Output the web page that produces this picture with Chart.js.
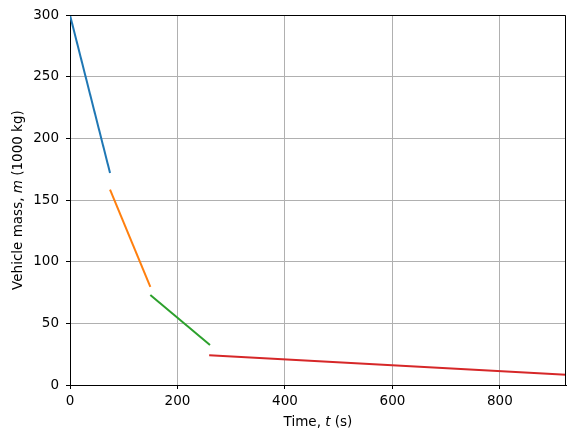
<!DOCTYPE html>
<html>
<head>
<meta charset="utf-8">
<script src="https://cdn.jsdelivr.net/npm/chart.js@4/dist/chart.umd.min.js"></script>
<style>
  html, body { margin: 0; padding: 0; background: #ffffff; }
  canvas { display: block; }
</style>
</head>
<body>
<canvas id="massChart" width="575" height="441"></canvas>
<script>
// Stage data: time (s) and vehicle mass (1000 kg)
const stage1Time = [0, 74.5];
const stage1Mass = [300, 172];
const stage2Time = [74.5, 149.5];
const stage2Mass = [158.5, 79.5];
const stage3Time = [149.5, 260.5];
const stage3Mass = [73, 32.5];
const stage4Time = [259, 923];
const stage4Mass = [24.1, 8.3];

const stageColors = ["#1f77b4", "#ff7f0e", "#2ca02c", "#d62728"];

const xTicks = [0, 200, 400, 600, 800];
const yTicks = [0, 50, 100, 150, 200, 250, 300];

const FONT = '"DejaVu Sans", sans-serif';
const FONT_SIZE = 13.5;

function toPoints(times, masses) {
  return times.map((t, i) => ({ x: t, y: masses[i] }));
}

// top and right spines, so the plot area is boxed like matplotlib
const frameBox = {
  id: "frameBox",
  afterDraw(chart) {
    const { ctx, chartArea: a } = chart;
    const top = Math.round(a.top) + 0.5;
    const right = Math.round(a.right) - 0.5;
    ctx.save();
    ctx.strokeStyle = "#000000";
    ctx.lineWidth = 1;
    ctx.beginPath();
    ctx.moveTo(a.left, top);
    ctx.lineTo(right, top);
    ctx.lineTo(right, a.bottom);
    ctx.stroke();
    ctx.restore();
  },
};

// axis titles with an italic symbol in the middle
function drawMixed(ctx, parts, cx, cy) {
  let total = 0;
  parts.forEach((p) => {
    ctx.font = (p.italic ? "italic " : "") + FONT_SIZE + "px " + FONT;
    p.w = ctx.measureText(p.text).width;
    total += p.w;
  });
  let x = cx - total / 2;
  parts.forEach((p) => {
    ctx.font = (p.italic ? "italic " : "") + FONT_SIZE + "px " + FONT;
    ctx.fillText(p.text, x, cy);
    x += p.w;
  });
}

const axisTitles = {
  id: "axisTitles",
  afterDraw(chart) {
    const { ctx, chartArea: a } = chart;
    ctx.save();
    ctx.fillStyle = "#000000";
    ctx.textAlign = "left";
    ctx.textBaseline = "middle";
    drawMixed(ctx, [
      { text: "Time, " },
      { text: "t", italic: true },
      { text: " (s)" },
    ], (a.left + a.right) / 2, 422);

    ctx.translate(18, (a.top + a.bottom) / 2);
    ctx.rotate(-Math.PI / 2);
    drawMixed(ctx, [
      { text: "Vehicle mass, " },
      { text: "m", italic: true },
      { text: " (1000 kg)" },
    ], 0, 0);
    ctx.restore();
  },
};

const stages = [
  [stage1Time, stage1Mass],
  [stage2Time, stage2Mass],
  [stage3Time, stage3Mass],
  [stage4Time, stage4Mass],
];

Chart.defaults.font.family = FONT;
Chart.defaults.font.size = FONT_SIZE;
Chart.defaults.color = "#000000";

new Chart(document.getElementById("massChart").getContext("2d"), {
  type: "scatter",
  data: {
    datasets: stages.map(([t, m], i) => ({
      label: "Stage " + (i + 1),
      data: toPoints(t, m),
      showLine: true,
      borderColor: stageColors[i],
      backgroundColor: stageColors[i],
      borderWidth: 2,
      pointRadius: 0,
      tension: 0,
    })),
  },
  options: {
    responsive: false,
    animation: false,
    layout: { padding: { top: 15, right: 9, left: 0, bottom: 0 } },
    plugins: {
      legend: { display: false },
      tooltip: { enabled: false },
    },
    scales: {
      x: {
        type: "linear",
        min: 0,
        max: 923,
        afterFit(scale) { scale.height = 56; },
        afterBuildTicks(scale) { scale.ticks = xTicks.map((v) => ({ value: v })); },
        ticks: { padding: 4, maxRotation: 0, includeBounds: false },
        grid: { color: "#b0b0b0", lineWidth: 1, tickLength: 4, tickColor: "#000000" },
        border: { display: true, color: "#000000", width: 1 },
      },
      y: {
        type: "linear",
        min: 0,
        max: 300,
        afterFit(scale) { scale.width = 70; },
        afterBuildTicks(scale) { scale.ticks = yTicks.map((v) => ({ value: v })); },
        ticks: { padding: 7, includeBounds: false },
        grid: { color: "#b0b0b0", lineWidth: 1, tickLength: 4, tickColor: "#000000" },
        border: { display: true, color: "#000000", width: 1 },
      },
    },
  },
  plugins: [frameBox, axisTitles],
});
</script>
</body>
</html>
